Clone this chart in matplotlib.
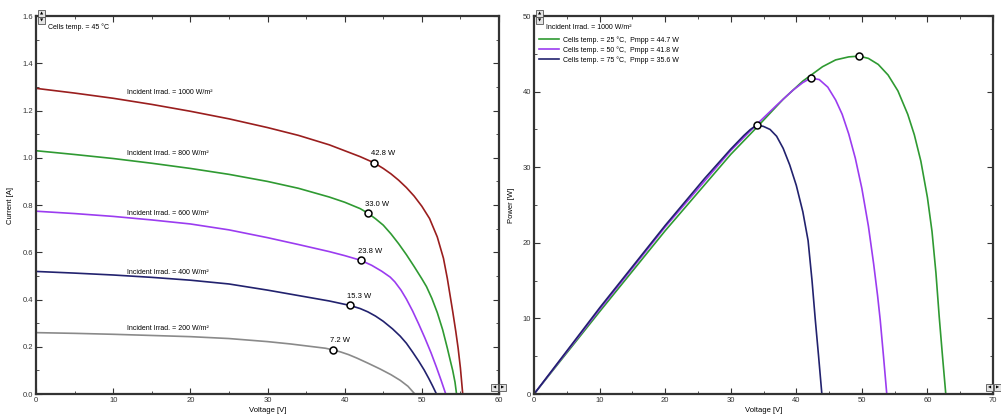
import matplotlib
matplotlib.use("Agg")
import matplotlib.pyplot as plt
from matplotlib.patches import Rectangle
from matplotlib.ticker import MultipleLocator

plt.rcParams["font.family"] = ["Liberation Sans", "DejaVu Sans"]

# ---- left chart: I-V curves at 45 degC, several irradiances
irrad = [1000, 800, 600, 400, 200]
iv_colors = ["#9a1e1e", "#2f9a32", "#9b3cf0", "#22226e", "#8a8a8a"]

v_1000 = [0, 5, 10, 15, 20, 25, 30, 34, 38, 40, 42, 43.8, 45, 46, 47, 48, 49, 50, 51, 52,
          52.8, 53.3, 53.6, 54.0, 54.4, 54.7, 55.0, 55.3]
i_1000 = [1.294, 1.274, 1.252, 1.226, 1.197, 1.165, 1.128, 1.095, 1.055, 1.03, 1.005, 0.979,
          0.955, 0.932, 0.905, 0.874, 0.838, 0.795, 0.743, 0.665, 0.575, 0.49, 0.43, 0.35,
          0.265, 0.195, 0.11, 0.0]

v_800 = [0, 5, 10, 15, 20, 25, 30, 34, 38, 40, 42, 43, 44, 45, 46, 47, 48, 49, 50, 50.6,
         51.3, 52.0, 52.7, 53.3, 53.7, 54.0, 54.3, 54.5]
i_800 = [1.03, 1.014, 0.997, 0.977, 0.955, 0.93, 0.9, 0.871, 0.834, 0.812, 0.785, 0.766,
         0.742, 0.715, 0.678, 0.636, 0.59, 0.54, 0.488, 0.455, 0.405, 0.345, 0.272, 0.195,
         0.14, 0.10, 0.05, 0.0]

v_600 = [0, 5, 10, 15, 20, 25, 30, 34, 38, 40, 42.1, 43.5, 44.8, 45.9, 46.5, 47.3, 48, 48.8,
         49.6, 50.4, 51.2, 51.9, 52.5, 53.1]
i_600 = [0.774, 0.764, 0.752, 0.737, 0.72, 0.695, 0.662, 0.633, 0.603, 0.586, 0.566, 0.545,
         0.52, 0.495, 0.475, 0.44, 0.402, 0.352, 0.296, 0.237, 0.174, 0.113, 0.058, 0.0]

v_400 = [0, 5, 10, 15, 20, 25, 30, 34, 38, 40.7, 42, 43, 44, 45, 46.2, 47.2, 48, 48.8,
         49.6, 50.3, 50.9, 51.4, 51.9]
i_400 = [0.519, 0.512, 0.504, 0.494, 0.482, 0.466, 0.44, 0.417, 0.394, 0.375, 0.362, 0.348,
         0.33, 0.308, 0.276, 0.245, 0.215, 0.178, 0.139, 0.102, 0.066, 0.034, 0.0]

v_200 = [0, 5, 10, 15, 20, 25, 30, 33, 36, 37.5, 38.5, 39.5, 40.5, 41.6, 43, 44.6, 46,
         47.2, 48.2, 49.1]
i_200 = [0.26, 0.257, 0.253, 0.248, 0.243, 0.235, 0.222, 0.212, 0.2, 0.194, 0.187, 0.178,
         0.167, 0.152, 0.131, 0.106, 0.082, 0.058, 0.033, 0.0]

mpp_v = [43.8, 43.0, 42.1, 40.7, 38.5]
mpp_i = [0.979, 0.766, 0.566, 0.375, 0.187]
mpp_labels = ["42.8 W", "33.0 W", "23.8 W", "15.3 W", "7.2 W"]
irrad_label_i = [1.277, 1.017, 0.766, 0.515, 0.277]

# ---- right chart: P-V curves at 1000 W/m2, several temperatures
temps = [25, 50, 75]
pmpp = ["44.7", "41.8", "35.6"]
pv_colors = ["#2f9a32", "#9b3cf0", "#22226e"]

v_25 = [0, 10, 20, 30, 34, 38, 41, 44, 46, 48, 49.6, 51, 52.5, 54, 55.5, 57, 58, 59, 60,
        60.7, 61.3, 61.8, 62.3, 62.8]
p_25 = [0, 10.9, 21.6, 31.7, 35.3, 39.0, 41.4, 43.3, 44.2, 44.6, 44.7, 44.4, 43.6, 42.2,
        40.1, 37.0, 34.3, 30.8, 26.0, 21.5, 16.0, 10.2, 5.0, 0]

v_50 = [0, 10, 20, 30, 34, 37, 39.5, 41, 42.2, 43.5, 44.8, 46, 47, 48, 49, 50, 51, 51.8,
        52.4, 52.8, 53.3, 53.8]
p_50 = [0, 11.2, 22.1, 32.2, 35.7, 38.2, 40.2, 41.2, 41.8, 41.6, 40.6, 38.9, 37.0, 34.4,
        31.2, 27.2, 22.2, 17.2, 13.0, 9.8, 5.0, 0]

v_75 = [0, 10, 20, 26, 30, 32, 33, 34, 35, 36, 37, 38, 39, 40, 41, 41.8, 42.4, 42.9,
        43.4, 43.9]
p_75 = [0, 11.4, 22.3, 28.5, 32.4, 34.2, 35.0, 35.6, 35.4, 35.0, 34.1, 32.5, 30.3, 27.6,
        24.1, 20.3, 15.0, 9.8, 5.0, 0]

pv_mpp_v = [49.6, 42.2, 34.0]
pv_mpp_p = [44.7, 41.8, 35.6]

fig = plt.figure(figsize=(10.01, 4.17), dpi=100)
ax1 = fig.add_axes([0.036, 0.055, 0.4625, 0.9065])
ax2 = fig.add_axes([0.5335, 0.055, 0.4585, 0.9065])


def style_axes(ax):
    for s in ax.spines.values():
        s.set_linewidth(1.6)
        s.set_color("#333333")
    ax.tick_params(which="both", direction="in", top=True, right=True,
                   labelsize=5.5, colors="#333333", pad=2)
    ax.tick_params(which="major", length=4, width=0.8)
    ax.tick_params(which="minor", length=2.5, width=0.6)


def button(x, y, glyph):
    # little scroll buttons drawn at the axes corners (pixel coords from top-left)
    w, h = 7, 7
    fig.add_artist(Rectangle((x / 1001, 1 - (y + h) / 417), w / 1001, h / 417,
                             transform=fig.transFigure, fc="#e4e4e4", ec="#555555", lw=0.6))
    fig.text((x + w / 2) / 1001, 1 - (y + h / 2) / 417, glyph, fontsize=3,
             ha="center", va="center", family="DejaVu Sans")


iv_v = [v_1000, v_800, v_600, v_400, v_200]
iv_i = [i_1000, i_800, i_600, i_400, i_200]
for k in range(len(irrad)):
    ax1.plot(iv_v[k], iv_i[k], color=iv_colors[k], lw=1.2)
    ax1.text(11.8, irrad_label_i[k], "Incident Irrad. = %d W/m²" % irrad[k],
             fontsize=5, va="center", ha="left")
    ax1.annotate(mpp_labels[k], (mpp_v[k], mpp_i[k]), xytext=(-2, 4),
                 textcoords="offset points", fontsize=5.5, ha="left", va="bottom")
ax1.plot(mpp_v, mpp_i, "o", ms=5, mfc="white", mec="black", mew=1.1, ls="none")
ax1.text(1.5, 1.553, "Cells temp. = 45 °C", fontsize=5, va="center")
ax1.set_xlim(0, 60)
ax1.set_ylim(0, 1.6)
ax1.xaxis.set_major_locator(MultipleLocator(10))
ax1.xaxis.set_minor_locator(MultipleLocator(5))
ax1.yaxis.set_major_locator(MultipleLocator(0.2))
ax1.yaxis.set_minor_locator(MultipleLocator(0.1))
ax1.set_xlabel("Voltage [V]", fontsize=5.5, labelpad=2)
ax1.set_ylabel("Current [A]", fontsize=5.5, labelpad=6)
style_axes(ax1)

pv_v = [v_25, v_50, v_75]
pv_p = [p_25, p_50, p_75]
for k in range(len(temps)):
    ax2.plot(pv_v[k], pv_p[k], color=pv_colors[k], lw=1.2,
             label="Cells temp. = %d °C,  Pmpp = %s W" % (temps[k], pmpp[k]))
ax2.plot(pv_mpp_v, pv_mpp_p, "o", ms=5, mfc="white", mec="black", mew=1.1, ls="none")
ax2.text(1.8, 48.5, "Incident Irrad. = 1000 W/m²", fontsize=5, va="center")
ax2.legend(loc="upper left", bbox_to_anchor=(0.005, 0.955), frameon=False,
           fontsize=5, handlelength=2.8, labelspacing=0.35, borderaxespad=0,
           handletextpad=0.6)
ax2.set_xlim(0, 70)
ax2.set_ylim(0, 50)
ax2.xaxis.set_major_locator(MultipleLocator(10))
ax2.xaxis.set_minor_locator(MultipleLocator(5))
ax2.yaxis.set_major_locator(MultipleLocator(10))
ax2.yaxis.set_minor_locator(MultipleLocator(5))
ax2.set_xlabel("Voltage [V]", fontsize=5.5, labelpad=2)
ax2.set_ylabel("Power [W]", fontsize=5.5, labelpad=6)
style_axes(ax2)

button(38, 10, "▲")
button(38, 17, "▼")
button(491, 384, "◀")
button(499, 384, "▶")
button(536, 10, "▲")
button(536, 17, "▼")
button(986, 384, "◀")
button(994, 384, "▶")

fig.savefig("out.png", dpi=100)
